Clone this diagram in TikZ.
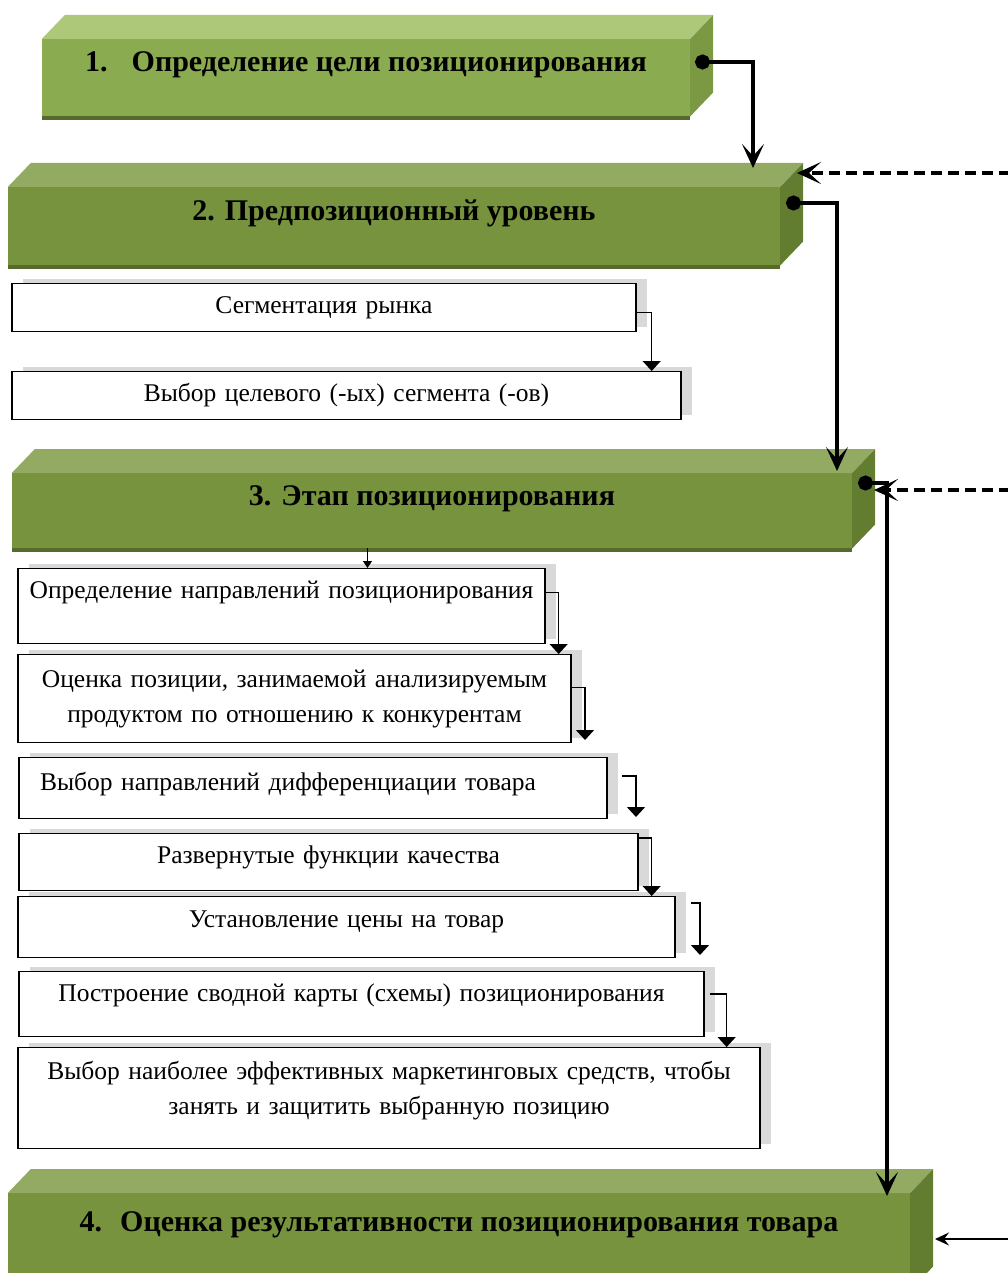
\documentclass[tikz,border=0pt]{standalone}
\usepackage{fontspec}
\setmainfont{Liberation Serif}
\usetikzlibrary{arrows.meta, calc, shadows}

\definecolor{topA}{RGB}{173,200,120}
\definecolor{frontA}{RGB}{139,171,80}
\definecolor{sideA}{RGB}{123,152,67}
\definecolor{topB}{RGB}{147,170,98}
\definecolor{frontB}{RGB}{119,147,61}
\definecolor{sideB}{RGB}{98,124,48}
\definecolor{rim}{RGB}{86,106,44}
\newcommand{\taskfont}{\fontsize{25.5}{35}\selectfont\spaceskip=8.5pt plus 2pt minus 1pt\relax}

\begin{document}
\begin{tikzpicture}[x=1pt, y=-1pt,
    stage/.style={rectangle, fill=frontB, inner sep=0pt, anchor=north, align=center,
                  font=\fontsize{30}{35}\selectfont\bfseries},
    task/.style={rectangle, draw=black, line width=1.3pt, fill=white, inner sep=0pt,
                 anchor=north, align=center, font=\taskfont,
                 general shadow={fill=black!15, shadow xshift=11pt, shadow yshift=5pt}},
    flow/.style={line width=4pt,
                 {Circle[length=15pt]}-{Stealth[length=24pt, width=22pt, inset=12pt]}},
    back/.style={line width=3.5pt, dash pattern=on 11pt off 6pt,
                 -{Stealth[length=24pt, width=22pt, inset=12pt]}},
    link/.style={line width=1.3pt, -{Triangle[length=10pt, width=18pt]}}
]
\useasboundingbox (0,0) rectangle (1008,1273);

% Four stages of the positioning process, drawn as 3D bars.
\node[stage, fill=frontA, minimum width=648pt, text height=32pt, text depth=45pt] (s1) at (366,39)
    {1.\hspace{0.8em}Определение цели позиционирования};
\node[stage, minimum width=772pt, text height=33pt, text depth=45pt] (s2) at (394,187)
    {2. Предпозиционный уровень};
\node[stage, minimum width=840pt, text height=32pt, text depth=43pt] (s3) at (432,473)
    {3. Этап позиционирования};
\node[stage, minimum width=902pt, text height=38pt, text depth=59pt] (s4) at (459,1193)
    {4.\hspace{0.6em}Оценка результативности позиционирования товара};
\foreach \n/\t/\s in {s1/topA/sideA, s2/topB/sideB, s3/topB/sideB, s4/topB/sideB} {
    \fill[\t] (\n.north west) -- ++(23,-24) -- ($(\n.north east)+(23,-24)$) -- (\n.north east) -- cycle;
    \fill[\s] (\n.north east) -- ++(23,-24) -- ($(\n.south east)+(23,-24)$) -- (\n.south east) -- cycle;
    \fill[rim] (\n.south west) rectangle ($(\n.south east)+(0,4)$);
}

% Pre-positioning steps.
\node[task, minimum width=624pt, text height=30pt, text depth=18pt] (seg) at (324,283)
    {Сегментация рынка};
\node[task, minimum width=669pt, text height=30pt, text depth=18pt] (tgt) at (346.5,371)
    {Выбор целевого (-ых) сегмента (-ов)};

% Positioning steps.
\node[task, minimum width=527pt, text height=30pt, text depth=45pt] (dir) at (281.5,568)
    {Определение направлений позиционирования};
\node[task, minimum width=553pt, minimum height=88pt] (est) at (294.5,654)
    {Оценка позиции, занимаемой анализируемым\\продуктом по отношению к конкурентам};
\node[task, text width=546pt, inner xsep=21pt, align=left, text height=33pt, text depth=28pt] (dif) at (313,757)
    {Выбор направлений дифференциации товара};
\node[task, minimum width=619pt, text height=30pt, text depth=27pt] (qfd) at (328.5,833)
    {Развернутые функции качества};
\node[task, minimum width=657pt, text height=31pt, text depth=30pt] (price) at (346.5,896)
    {Установление цены на товар};
\node[task, minimum width=685pt, text height=30pt, text depth=35pt] (map) at (361.5,971)
    {Построение сводной карты (схемы) позиционирования};
\node[task, minimum width=742pt, text height=67pt, text depth=34pt] (tools) at (389,1047)
    {Выбор наиболее эффективных маркетинговых средств, чтобы\\занять и защитить выбранную позицию};

% Ends of the connectors on the bars.
\coordinate (s1-dot) at (695,62);
\coordinate (s2-in) at (753,168);
\coordinate (s2-dot) at (786,203);
\coordinate (s3-in) at (837,471);
\coordinate (s3-dot) at (858,483);
\coordinate (s4-in) at (887,1196);
\coordinate (s2-fb) at (797,173);
\coordinate (s3-fb) at (874,490);
\coordinate (s4-fb) at (935,1239);
\coordinate (fb2-from) at (1010,173);
\coordinate (fb3-from) at (1010,490);
\coordinate (fb4-from) at (1010,1239);

\draw[flow] (s1-dot) -| (s2-in);
\draw[flow] (s2-dot) -| (s3-in);
\draw[flow] (s3-dot) -| (s4-in);
\draw[back] (fb2-from) -- (s2-fb);
\draw[back] (fb3-from) -- (s3-fb);
\draw[line width=1.8pt, -{Stealth[length=14pt, width=13pt, inset=5pt]}] (fb4-from) -- (s4-fb);

% Links between the small steps.
\coordinate (est-end) at (585,740);
\coordinate (dif-out) at (622,776);
\coordinate (dif-end) at (636,817);
\coordinate (price-out) at (691,903);
\coordinate (price-end) at (700,955);
\coordinate (map-out) at (710,994);

\draw[link] ([yshift=-5pt]seg.east) -| ([xshift=-30pt]tgt.north east);
\draw[line width=1pt, -{Triangle[length=7pt, width=9pt]}] ([xshift=86pt]dir.north |- s3.south) -- ([xshift=86pt]dir.north);
\draw[link] ([yshift=14pt]dir.east) -| ([xshift=-13pt]est.north east);
\draw[link] ([yshift=11pt]est.east) -| (est-end);
\draw[link] (dif-out) -| (dif-end);
\draw[link] ([yshift=-5pt]qfd.north east) -| ([xshift=-24pt]price.north east);
\draw[link] (price-out) -| (price-end);
\draw[link] (map-out) -| ([xshift=-34pt]tools.north east);
\end{tikzpicture}
\end{document}
